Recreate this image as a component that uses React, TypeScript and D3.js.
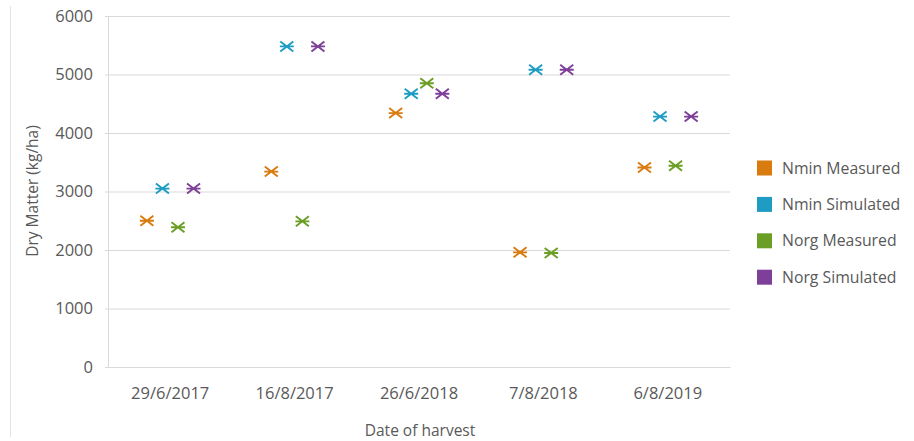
import React, { useEffect, useRef } from "react";
import * as d3 from "d3";

const dates = ["29/6/2017", "16/8/2017", "26/6/2018", "7/8/2018", "6/8/2019"];
const series = ["Nmin Measured", "Nmin Simulated", "Norg Measured", "Norg Simulated"];
const colors = ["#d97b0f", "#1f9cc4", "#6b9e24", "#7d3f98"];

const nminMeasured = [2500, 3340, 4340, 1960, 3410];
const nminSimulated = [3050, 5480, 4670, 5080, 4280];
const norgMeasured = [2390, 2490, 4850, 1950, 3440];
const norgSimulated = [3050, 5480, 4670, 5080, 4280];

const yTicks = [0, 1000, 2000, 3000, 4000, 5000, 6000];

const App = () => {
  const ref = useRef<SVGSVGElement>(null);

  useEffect(() => {
    const width = 914;
    const height = 441;
    const marginLeft = 108;
    const plotRight = 730;
    const top = 16;
    const bottom = 367;
    const font = "'Open Sans', 'Noto Sans', sans-serif";
    const textColor = "#595959";
    const grid = "#d9d9d9";

    const values = [nminMeasured, nminSimulated, norgMeasured, norgSimulated];

    const svg = d3.select(ref.current);
    svg.selectAll("*").remove();
    svg.attr("width", width).attr("height", height).attr("viewBox", [0, 0, width, height]);

    const x = d3.scaleBand(dates, [marginLeft, plotRight]);
    const xz = d3.scalePoint(series, [0, x.bandwidth()]).padding(2.5);
    const y = d3.scaleLinear([0, 6000], [bottom, top]);

    // outer frame edge on the left
    svg
      .append("line")
      .attr("x1", 10.5)
      .attr("x2", 10.5)
      .attr("y1", 6)
      .attr("y2", 437)
      .attr("stroke", "#e3e3e3");

    // y axis with gridlines
    svg
      .append("g")
      .attr("transform", `translate(${marginLeft},0)`)
      .call(d3.axisLeft(y).tickValues(yTicks).tickFormat(d3.format("d")).tickSize(3).tickPadding(12))
      .call((g) => g.select(".domain").attr("stroke", grid))
      .call((g) => g.selectAll(".tick line").attr("stroke", grid))
      .call((g) =>
        g
          .selectAll(".tick")
          .filter((d) => d !== 0)
          .append("line")
          .attr("x2", plotRight - marginLeft)
          .attr("stroke", grid)
      )
      .call((g) =>
        g
          .selectAll(".tick text")
          .attr("fill", textColor)
          .attr("font-family", font)
          .attr("font-size", 16.5)
      );

    // x axis
    svg
      .append("g")
      .attr("transform", `translate(0,${bottom})`)
      .call(d3.axisBottom(x).tickSize(0).tickPadding(20))
      .call((g) => g.select(".domain").attr("stroke", grid))
      .call((g) =>
        g
          .selectAll(".tick text")
          .attr("fill", textColor)
          .attr("font-family", font)
          .attr("font-size", 16.5)
      );

    // axis titles
    svg
      .append("text")
      .attr("x", 420)
      .attr("y", 436)
      .attr("text-anchor", "middle")
      .attr("fill", textColor)
      .attr("font-family", font)
      .attr("font-size", 15.5)
      .text("Date of harvest");

    svg
      .append("text")
      .attr("transform", `translate(38,191) rotate(-90)`)
      .attr("text-anchor", "middle")
      .attr("fill", textColor)
      .attr("font-family", font)
      .attr("font-size", 15.5)
      .text("Dry Matter (kg/ha)");

    // asterisk markers
    const star = "M-6.5,-5L6.5,5M-6.5,5L6.5,-5M-7,0L7,0";
    series.forEach((s, si) => {
      svg
        .append("g")
        .selectAll("path")
        .data(values[si])
        .join("path")
        .attr("transform", (d, i) => `translate(${x(dates[i])! + xz(s)!},${y(d)})`)
        .attr("d", star)
        .attr("fill", "none")
        .attr("stroke", colors[si])
        .attr("stroke-width", 1.9);
    });

    // legend
    const legend = svg
      .append("g")
      .selectAll("g")
      .data(series)
      .join("g")
      .attr("transform", (d, i) => `translate(757,${168 + i * 36.4})`);
    legend
      .append("rect")
      .attr("x", 0)
      .attr("y", -7.5)
      .attr("width", 15)
      .attr("height", 15)
      .attr("fill", (d, i) => colors[i]);
    legend
      .append("text")
      .attr("x", 25)
      .attr("dy", "0.35em")
      .attr("fill", textColor)
      .attr("font-family", font)
      .attr("font-size", 15.8)
      .text((d) => d);
  }, []);

  return <svg ref={ref} style={{ position: "absolute", left: 0, top: 0, display: "block" }}></svg>;
};

export default App;
